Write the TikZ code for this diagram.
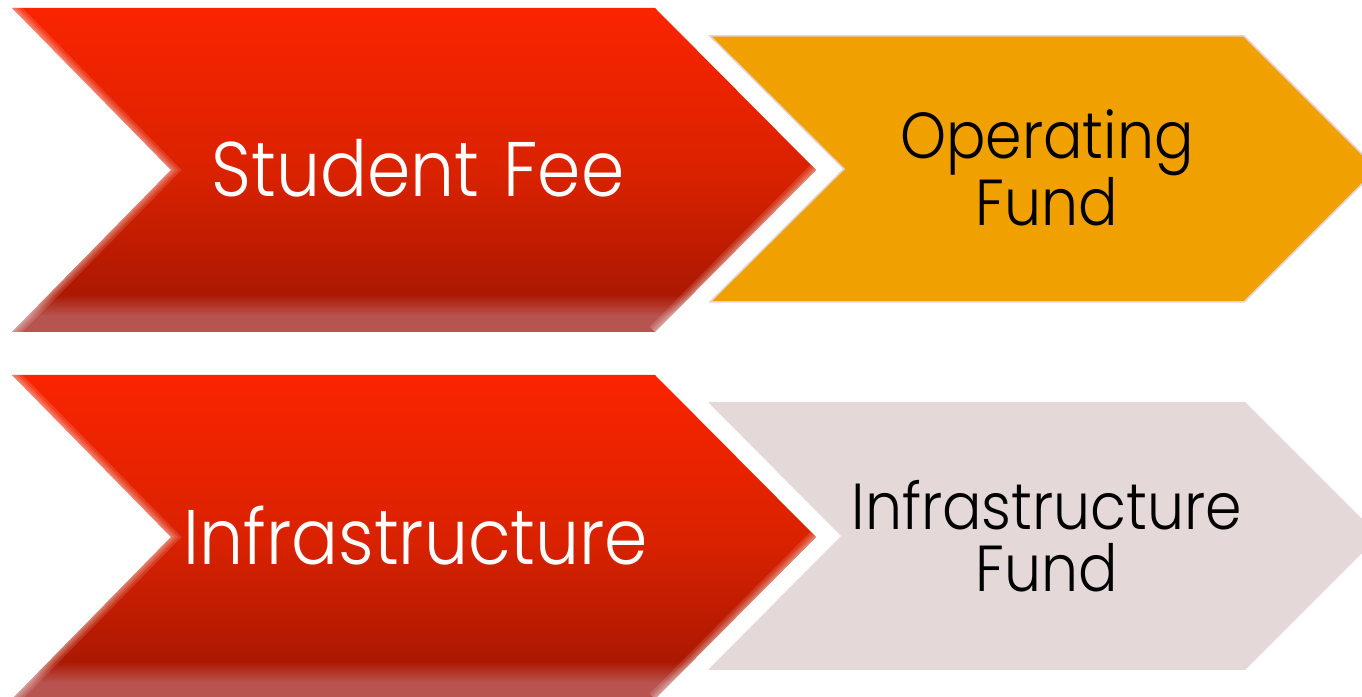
\documentclass[tikz,border=0pt]{standalone}
\usepackage{fontspec}
\setmainfont{Poppins}[UprightFont=* Light,FakeStretch=0.9]
\usepackage{tikz}
\definecolor{feetop}{RGB}{250,36,0}
\definecolor{feemid}{RGB}{218,34,0}
\definecolor{feedark}{RGB}{172,24,2}
\definecolor{feeband}{RGB}{184,84,80}
\definecolor{opfund}{RGB}{240,161,0}
\definecolor{infund}{RGB}{229,216,216}
\definecolor{rim}{RGB}{226,212,208}
\pgfdeclareverticalshading{feeshade}{100bp}{color(0bp)=(feeband); color(27.5bp)=(feeband);
  color(30.75bp)=(feedark); color(50bp)=(feemid); color(75bp)=(feetop); color(100bp)=(feetop)}
\tikzstyle{source}=[shading=feeshade]
\tikzstyle{fund}=[draw=rim,line width=0.3mm]
\tikzstyle{big}=[font=\fontsize{44}{54}\selectfont,text=white]
\tikzstyle{small}=[font=\fontsize{37}{35.5}\selectfont,text=black,align=center]

\begin{document}
\begin{tikzpicture}[x=0.2mm,y=-0.2mm]
    \useasboundingbox (0,0) rectangle (1362,697);
    \clip (0,0) rectangle (1362,697);
    % top row
    \path[source] (12,8) -- (655,8) -- (816,170) -- (655,332) -- (12,332) -- (171,170) -- cycle;
    \begin{scope}
      \clip (12,8) -- (655,8) -- (816,170) -- (655,332) -- (12,332) -- (171,170) -- cycle;
      \foreach \w in {3mm,2mm,1.2mm,0.5mm}
        \draw[white,line width=\w,opacity=.13] (12,8) -- (171,170) -- (12,332) (655,332) -- (816,170);
    \end{scope}
    \draw[fund,fill=opfund] (710,36) -- (1244,36) -- (1377,169) -- (1244,302) -- (710,302) -- (844,169) -- cycle;
    \node[big,anchor=base] (fee) at (418,197) {Student\hspace{3pt} Fee};
    \node[small] (operating) at (1047,168) {Operating\\Fund};
    % bottom row
    \path[source] (12,375) -- (655,375) -- (816,537) -- (655,699) -- (12,699) -- (171,537) -- cycle;
    \begin{scope}
      \clip (12,375) -- (655,375) -- (816,537) -- (655,699) -- (12,699) -- (171,537) -- cycle;
      \foreach \w in {3mm,2mm,1.2mm,0.5mm}
        \draw[white,line width=\w,opacity=.13] (12,375) -- (171,537) -- (12,699) (655,699) -- (816,537);
    \end{scope}
    \fill[infund] (708,402) -- (1245,402) -- (1379,536) -- (1245,670) -- (708,670) -- (841,536) -- cycle;
    \node[big,anchor=base] (infra) at (416,565) {Infrastructure};
    \node[small] (infrafund) at (1047,536) {Infrastructure\\Fund};
\end{tikzpicture}
\end{document}
